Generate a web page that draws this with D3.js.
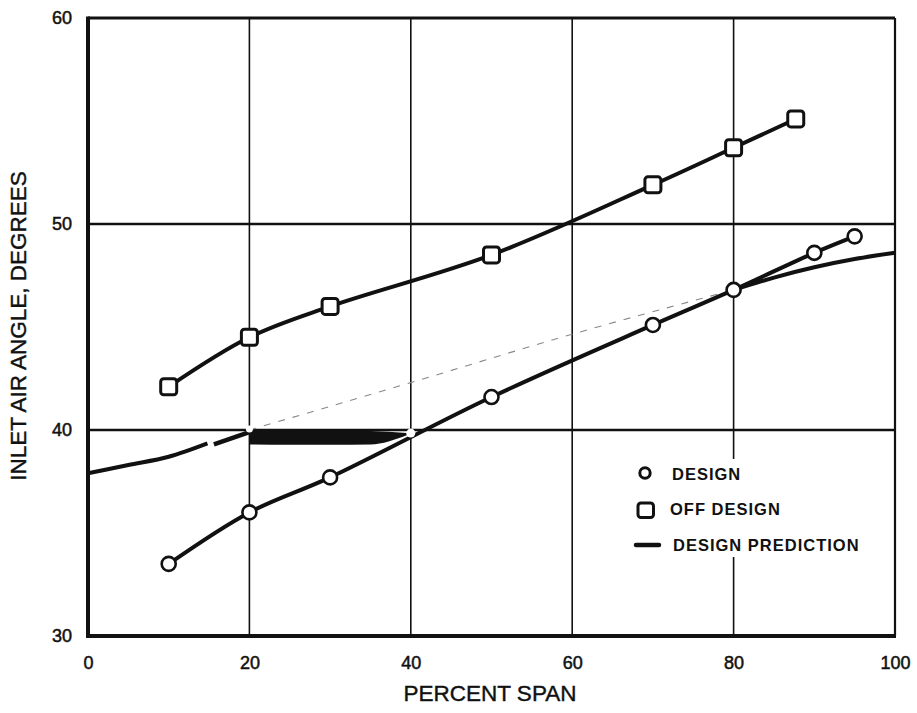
<!DOCTYPE html>
<html>
<head>
<meta charset="utf-8">
<script src="https://cdn.jsdelivr.net/npm/d3@7"></script>
<style>
  html, body { margin: 0; padding: 0; background: #fff; }
  svg { display: block; }
  text { font-family: "Liberation Sans", Arial, sans-serif; fill: #111; }
</style>
</head>
<body>
<svg id="chart" width="917" height="713"></svg>
<script>
// Inlet air angle versus percent span
const xTicks = [0, 20, 40, 60, 80, 100];
const yTicks = [30, 40, 50, 60];

// Measured points
const designSpan = [10, 20, 30, 50, 70, 80, 90, 95];
const designAngle = [33.5, 36.0, 37.7, 41.6, 45.1, 46.8, 48.6, 49.4];
const offSpan = [10, 20, 30, 50, 70, 80, 87.7];
const offAngle = [42.1, 44.5, 46.0, 48.5, 51.9, 53.7, 55.1];

// Design prediction curve, drawn in pieces
const predLowSpan = [0, 5, 10, 14.8];
const predLowAngle = [37.9, 38.3, 38.7, 39.35];
const predMidSpan = [15.6, 20];
const predMidAngle = [39.3, 39.9];
const predBandSpan = [20, 25, 30, 35, 39.5];
const predBandTop = [40.0, 40.0, 39.98, 39.95, 39.85];
const predBandBottom = [39.3, 39.28, 39.28, 39.3, 39.75];
const predFaintSpan = [20, 40, 60, 80];
const predFaintAngle = [40.0, 42.3, 44.65, 46.8];
const predHighSpan = [80, 85, 90, 95, 100];
const predHighAngle = [46.8, 47.4, 47.9, 48.3, 48.6];

const legendLabels = ["DESIGN", "OFF DESIGN", "DESIGN PREDICTION"];

const svg = d3.select("#chart");
const plotL = 88, plotR = 895, plotT = 18, plotB = 636;

const x = d3.scaleLinear().domain([0, 100]).range([plotL, plotR]);
const y = d3.scaleLinear().domain([30, 60]).range([plotB, plotT]);

// Grid
const grid = svg.append("g");
grid.selectAll("line.v").data(xTicks.slice(1, -1)).join("line")
  .attr("x1", d => x(d)).attr("x2", d => x(d))
  .attr("y1", plotT).attr("y2", plotB)
  .attr("stroke", "#111").attr("stroke-width", 1.6);
grid.selectAll("line.h").data(yTicks.slice(1, -1)).join("line")
  .attr("x1", plotL).attr("x2", plotR)
  .attr("y1", d => y(d)).attr("y2", d => y(d))
  .attr("stroke", "#111").attr("stroke-width", 2.4);

// Frame
svg.append("line").attr("x1", plotL).attr("x2", plotR).attr("y1", plotT).attr("y2", plotT)
  .attr("stroke", "#111").attr("stroke-width", 3);
svg.append("line").attr("x1", plotR).attr("x2", plotR).attr("y1", plotT).attr("y2", plotB)
  .attr("stroke", "#111").attr("stroke-width", 2.2);
svg.append("line").attr("x1", plotL).attr("x2", plotL).attr("y1", plotT - 1.5).attr("y2", plotB + 2)
  .attr("stroke", "#111").attr("stroke-width", 4);
svg.append("line").attr("x1", plotL - 2).attr("x2", plotR + 1).attr("y1", plotB).attr("y2", plotB)
  .attr("stroke", "#111").attr("stroke-width", 4);

// Axes (labels only)
const xAxis = svg.append("g").attr("transform", `translate(0,${plotB + 17})`)
  .call(d3.axisBottom(x).tickValues(xTicks).tickSize(0).tickFormat(d3.format("d")));
xAxis.select(".domain").remove();
xAxis.selectAll("text").attr("font-size", 18).attr("font-family", "Liberation Sans, Arial, sans-serif")
  .attr("fill", "#111").attr("stroke", "#111").attr("stroke-width", 0.5);

const yAxis = svg.append("g").attr("transform", `translate(${plotL - 13},0)`)
  .call(d3.axisLeft(y).tickValues(yTicks).tickSize(0).tickFormat(d3.format("d")));
yAxis.select(".domain").remove();
yAxis.selectAll("text").attr("font-size", 18).attr("font-family", "Liberation Sans, Arial, sans-serif")
  .attr("fill", "#111").attr("stroke", "#111").attr("stroke-width", 0.5);

// Axis titles
svg.append("text").attr("x", 490).attr("y", 701)
  .attr("text-anchor", "middle").attr("font-size", 22.5)
  .attr("stroke", "#111").attr("stroke-width", 0.4).text("PERCENT SPAN");
svg.append("text").attr("transform", "translate(26,326) rotate(-90)")
  .attr("text-anchor", "middle").attr("font-size", 22.5)
  .attr("stroke", "#111").attr("stroke-width", 0.4).text("INLET AIR ANGLE, DEGREES");

const line = d3.line().curve(d3.curveMonotoneX);
const zip = (a, b) => a.map((v, i) => [x(v), y(b[i])]);

// Design prediction: faint dashed middle section
svg.append("path").attr("d", d3.line().curve(d3.curveMonotoneX)(zip(predFaintSpan, predFaintAngle)))
  .attr("fill", "none").attr("stroke", "#888").attr("stroke-width", 1.1)
  .attr("stroke-dasharray", "7,8");

// Design prediction: solid pieces
svg.append("path").attr("d", line(zip(predLowSpan, predLowAngle)))
  .attr("fill", "none").attr("stroke", "#111").attr("stroke-width", 4);
svg.append("path").attr("d", line(zip(predMidSpan, predMidAngle)))
  .attr("fill", "none").attr("stroke", "#111").attr("stroke-width", 4.5);
const band = d3.area().curve(d3.curveMonotoneX)
  .x((d, i) => x(predBandSpan[i]))
  .y0((d, i) => y(predBandBottom[i]))
  .y1((d, i) => y(predBandTop[i]));
svg.append("path").attr("d", band(predBandSpan)).attr("fill", "#111");
svg.append("path").attr("d", line(zip(predHighSpan, predHighAngle)))
  .attr("fill", "none").attr("stroke", "#111").attr("stroke-width", 4);

// Off design curve
svg.append("path").attr("d", d3.line().curve(d3.curveCatmullRom.alpha(0.5))(zip(offSpan, offAngle)))
  .attr("fill", "none").attr("stroke", "#111").attr("stroke-width", 4);

// Design curve
svg.append("path").attr("d", d3.line().curve(d3.curveCatmullRom.alpha(0.5))(zip(designSpan, designAngle)))
  .attr("fill", "none").attr("stroke", "#111").attr("stroke-width", 4);

// Small breaks in the lines near the 40-degree crossings
[[20, 40.05, 3.5], [40, 39.85, 4.5]].forEach(([sx, sy, r]) => {
  svg.append("circle").attr("cx", x(sx)).attr("cy", y(sy)).attr("r", r).attr("fill", "#fff");
});

// Markers
svg.selectAll("rect.off").data(offSpan).join("rect")
  .attr("x", (d) => x(d) - 8).attr("y", (d, i) => y(offAngle[i]) - 8)
  .attr("width", 16).attr("height", 16).attr("rx", 3)
  .attr("fill", "#fff").attr("stroke", "#111").attr("stroke-width", 3);
svg.selectAll("circle.des").data(designSpan).join("circle")
  .attr("cx", d => x(d)).attr("cy", (d, i) => y(designAngle[i])).attr("r", 7)
  .attr("fill", "#fff").attr("stroke", "#111").attr("stroke-width", 2.6);

// Legend
const lg = svg.append("g");
lg.append("rect").attr("x", 622).attr("y", 459).attr("width", 262).attr("height", 98).attr("fill", "#fff");
lg.append("circle").attr("cx", 645).attr("cy", 473).attr("r", 5.2)
  .attr("fill", "#fff").attr("stroke", "#111").attr("stroke-width", 3);
lg.append("rect").attr("x", 638).attr("y", 503).attr("width", 15.5).attr("height", 14.5).attr("rx", 3)
  .attr("fill", "#fff").attr("stroke", "#111").attr("stroke-width", 3);
lg.append("line").attr("x1", 636).attr("x2", 659).attr("y1", 545).attr("y2", 545)
  .attr("stroke", "#111").attr("stroke-width", 4.5).attr("stroke-linecap", "round");
const lx = [672, 670, 673], ly = [480, 515, 551];
lg.selectAll("text").data(legendLabels).join("text")
  .attr("x", (d, i) => lx[i]).attr("y", (d, i) => ly[i])
  .attr("font-size", 16.5).attr("font-weight", "bold").attr("letter-spacing", 1)
  .text(d => d);
</script>
</body>
</html>
